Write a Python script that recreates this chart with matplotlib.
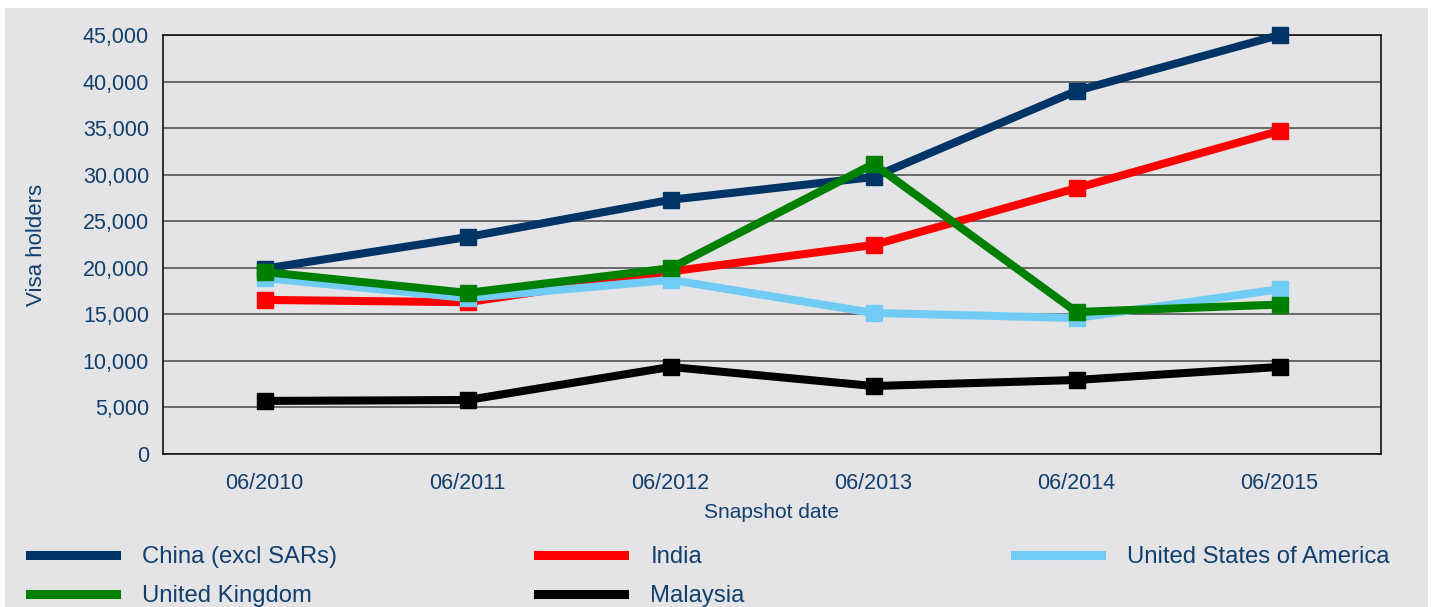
import matplotlib
matplotlib.use('Agg')
import matplotlib.pyplot as plt
from matplotlib.patches import Rectangle
from matplotlib.ticker import FuncFormatter

plt.rcParams['font.family'] = ['Liberation Sans', 'DejaVu Sans']

dates = ['06/2010', '06/2011', '06/2012', '06/2013', '06/2014', '06/2015']
china = [19900, 23300, 27300, 29750, 39000, 45000]
india = [16550, 16300, 19600, 22450, 28550, 34700]
usa = [18900, 16750, 18700, 15150, 14600, 17700]
uk = [19550, 17300, 19950, 31150, 15250, 16050]
malaysia = [5700, 5800, 9350, 7300, 7950, 9350]

series = [
    ('China (excl SARs)', china, '#003366'),
    ('India', india, '#FF0000'),
    ('United States of America', usa, '#70CCF5'),
    ('United Kingdom', uk, '#008000'),
    ('Malaysia', malaysia, '#000000'),
]

text_color = '#113F6E'
W, H = 1431, 607
fig = plt.figure(figsize=(W / 100, H / 100), dpi=100, facecolor='white')
fig.patches.append(Rectangle((5 / W, 0), (1428 - 5) / W, (H - 8) / H,
                             transform=fig.transFigure, facecolor='#E4E4E6',
                             edgecolor='none', zorder=-10))

ax = fig.add_axes([163 / W, (H - 454) / H, (1381 - 163) / W, (454 - 35) / H])
ax.set_facecolor('#E4E4E6')

x = list(range(len(dates)))
handles = {}
for name, vals, col in series:
    ln, = ax.plot(x, vals, color=col, lw=5.8, marker='s', markersize=11.5,
                  solid_joinstyle='miter', label=name, clip_on=False, zorder=3)
    handles[name] = ln

ax.set_xlim(-0.5, 5.5)
ax.set_ylim(0, 45000)
ax.set_yticks(range(0, 45001, 5000))
ax.yaxis.set_major_formatter(FuncFormatter(lambda v, p: f'{int(v):,}'))
ax.set_xticks(x)
ax.set_xticklabels(dates)
ax.grid(axis='y', color='#555555', lw=1.2, zorder=1)
ax.set_axisbelow(True)
ax.tick_params(length=0, labelsize=15.5, labelcolor=text_color)
ax.tick_params(axis='y', pad=10)
ax.tick_params(axis='x', pad=14)
for s in ax.spines.values():
    s.set_color('#111111')
    s.set_linewidth(1.2)

ax.set_xlabel('Snapshot date', fontsize=15, color=text_color, labelpad=6)
ax.set_ylabel('Visa holders', fontsize=16, color=text_color, labelpad=0)
ax.yaxis.set_label_coords(-0.095, 0.5)

columns = [
    (['China (excl SARs)', 'United Kingdom'], 30),
    (['India', 'Malaysia'], 538),
    (['United States of America'], 1015),
]
for names, px in columns:
    leg = fig.legend([handles[n] for n in names], names,
                     loc='upper left', bbox_to_anchor=(px / W, 1 - 546 / H),
                     frameon=False, fontsize=17.2, handlelength=3.6,
                     handletextpad=1.1, labelspacing=0.72, borderpad=0,
                     borderaxespad=0, labelcolor=text_color)
    for h in leg.legend_handles:
        h.set_marker('')
        h.set_linewidth(6.5)

fig.savefig('out.png', dpi=100, facecolor='white')
